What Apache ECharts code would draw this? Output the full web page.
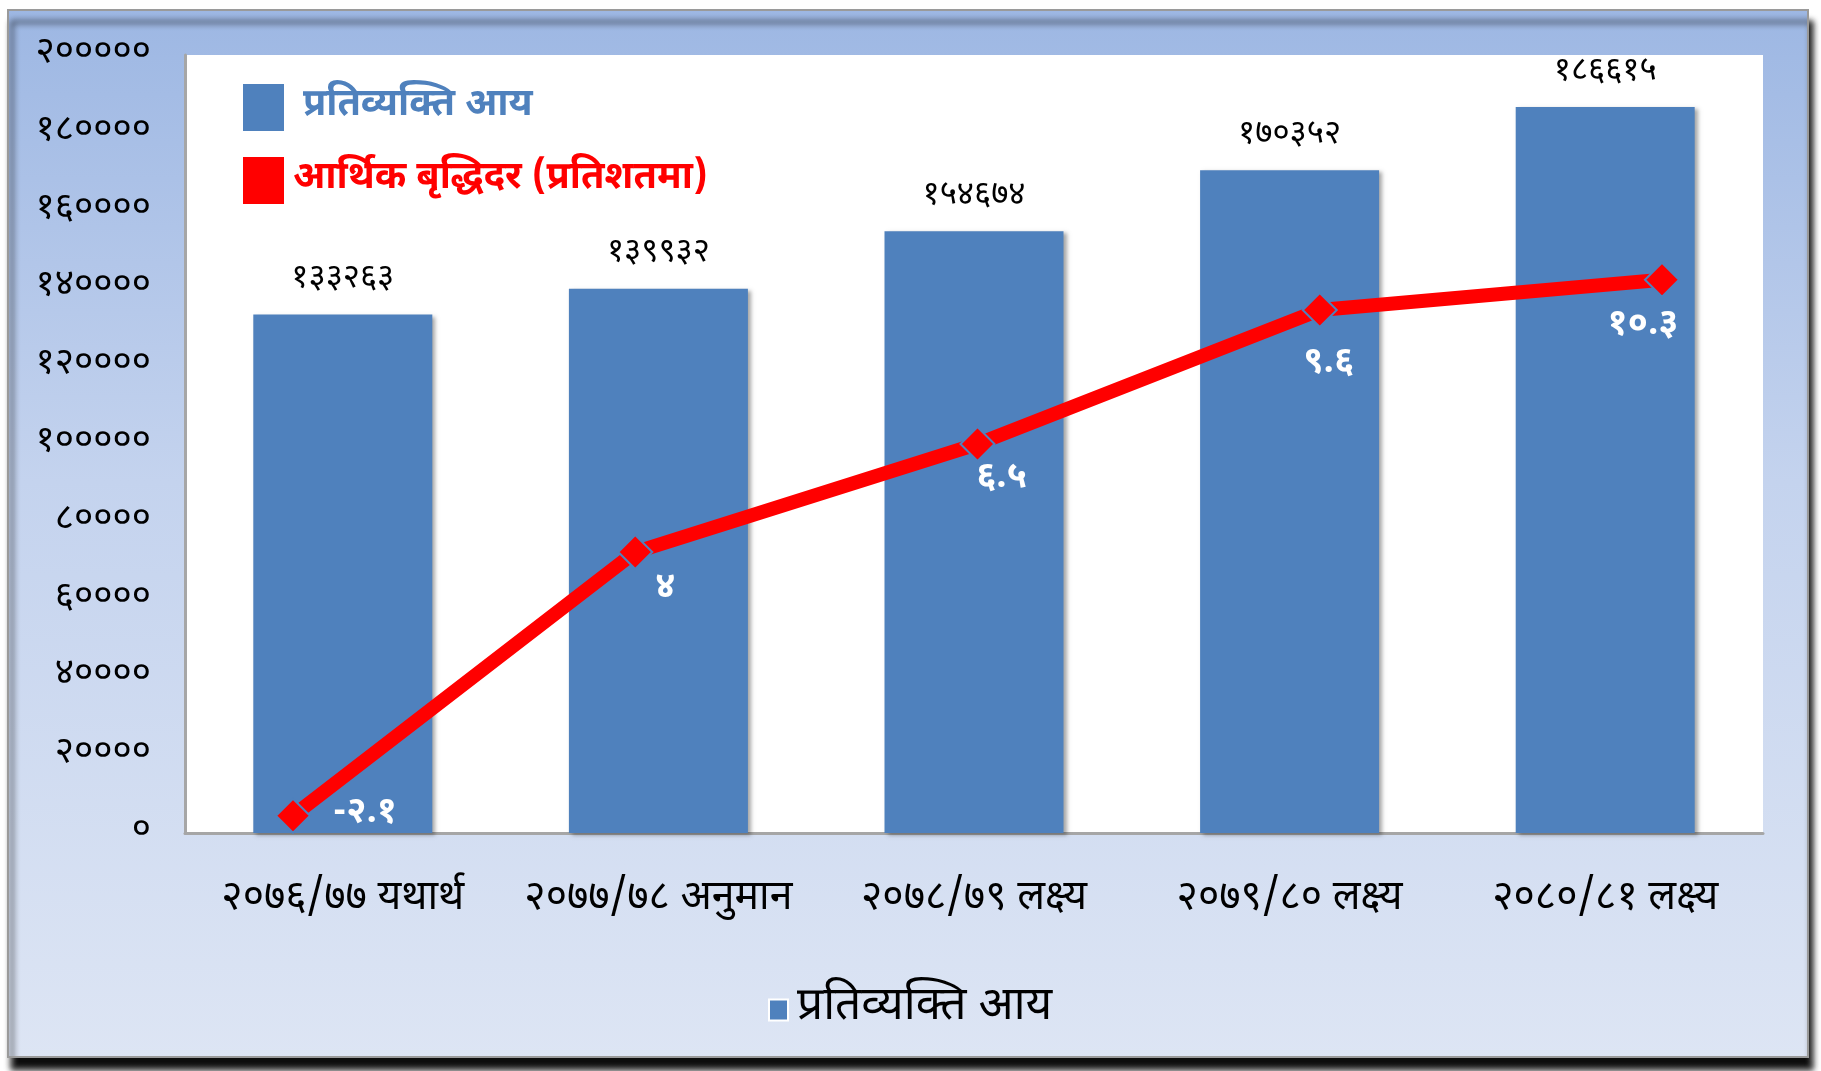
<!DOCTYPE html>
<html>
<head>
<meta charset="utf-8">
<script src="https://cdn.jsdelivr.net/npm/echarts@6/dist/echarts.min.js"></script>
<style>
html,body{margin:0;padding:0;background:#fff;}
#chart{width:1821px;height:1071px;}
</style>
</head>
<body>
<div id="chart"></div>
<script>
const categories = ['२०७६/७७ यथार्थ', '२०७७/७८ अनुमान', '२०७८/७९ लक्ष्य', '२०७९/८० लक्ष्य', '२०८०/८१ लक्ष्य'];
const perCapitaIncome = [133263, 139932, 154674, 170352, 186615];
const growthRate = [-2.1, 4, 6.5, 9.6, 10.3];
const yTickLabels = ['०', '२००००', '४००००', '६००००', '८००००', '१०००००', '१२००००', '१४००००', '१६००००', '१८००००', '२०००००'];
const barName = 'प्रतिव्यक्ति आय';
const lineName = 'आर्थिक बृद्धिदर (प्रतिशतमा)';

const growthLabelOffsets = [[72, 0], [30, 38], [24, 36], [9, 55], [-19, 48]];

const DEV = '०१२३४५६७८९';
function toDev(s){ return String(s).replace(/[0-9]/g, d => DEV[+d]); }
const FONT = "'Noto Sans Devanagari','Lohit Devanagari','Mangal','FreeSans','Noto Sans',sans-serif";

const chart = echarts.init(document.getElementById('chart'), null, {renderer:'canvas'});
chart.setOption({
  animation:false,
  backgroundColor:'#ffffff',
  textStyle:{fontFamily:FONT},
  graphic:[
    {type:'rect', z:-10, silent:true,
     shape:{x:8, y:10, width:1800, height:1047},
     style:{
       fill:new echarts.graphic.LinearGradient(0,0,0,1,[
         {offset:0,color:'#9db7e3'},{offset:0.45,color:'#c4d3ee'},{offset:1,color:'#dde5f4'}]),
       stroke:'#9a9a9a', lineWidth:2,
       shadowColor:'rgba(0,0,0,0.95)', shadowBlur:6, shadowOffsetX:4, shadowOffsetY:12
     }}
  ],
  legend:[
    {orient:'vertical', left:238, top:79, itemWidth:41, itemHeight:47, itemGap:26,
     icon:'rect', selectedMode:false,
     itemStyle:{borderWidth:0},
     data:[
       {name:barName, itemStyle:{borderWidth:0}, textStyle:{color:'#4f81bd', fontSize:38, fontWeight:'bold', padding:[0,0,0,14], fontFamily:FONT}},
       {name:lineName, itemStyle:{borderWidth:0, color:'#ff0000'}, textStyle:{color:'#ff0000', fontSize:38, fontWeight:'bold', padding:[0,0,0,4], fontFamily:FONT}}
     ]},
    {orient:'horizontal', left:763, top:982, itemWidth:19, itemHeight:21, icon:'rect', selectedMode:false,
     itemStyle:{borderColor:'#fff', borderWidth:2},
     data:[{name:barName}],
     textStyle:{color:'#000', fontSize:46, fontFamily:FONT, padding:[0,0,0,4]}}
  ],
  grid:[
    {left:185, right:58, top:55, bottom:238, show:true, backgroundColor:'#ffffff', borderWidth:0},
    {left:293, right:159, top:55, bottom:238, show:false}
  ],
  xAxis:[
    {type:'category', gridIndex:0, data:categories,
     axisLine:{show:true, lineStyle:{color:'#a6a6a6', width:3}},
     axisTick:{show:false},
     axisLabel:{color:'#000', fontSize:41, margin:48, interval:0, fontFamily:FONT}},
    {type:'category', gridIndex:1, data:categories, boundaryGap:false, show:false}
  ],
  yAxis:[
    {type:'value', gridIndex:0, min:0, max:200000, interval:20000,
     axisLine:{show:true, lineStyle:{color:'#a6a6a6', width:3}},
     axisTick:{show:false}, splitLine:{show:false},
     axisLabel:{color:'#000', fontSize:37, margin:34, fontFamily:FONT,
       formatter:(v)=>yTickLabels[Math.round(v/20000)]}},
    {type:'value', gridIndex:1, min:-2.5, max:15.5, show:false, splitLine:{show:false}}
  ],
  series:[
    {name:barName, type:'bar', xAxisIndex:0, yAxisIndex:0, data:perCapitaIncome, barWidth:179,
     itemStyle:{color:'#4f81bd', shadowColor:'rgba(0,0,0,0.35)', shadowBlur:4, shadowOffsetX:3, shadowOffsetY:2},
     label:{show:true, position:'top', distance:17, color:'#000', fontSize:33, fontFamily:FONT,
       formatter:(p)=>toDev(p.value)}},
    {name:lineName, type:'line', xAxisIndex:1, yAxisIndex:1, z:5,
     data:growthRate.map((v,i)=>({value:v, label:{offset:growthLabelOffsets[i]}})),
     lineStyle:{color:'#ff0000', width:14},
     itemStyle:{color:'#ff0000', borderColor:'#4f81bd', borderWidth:2},
     symbol:'diamond', symbolSize:34,
     label:{show:true, position:'inside', color:'#fff', fontSize:36, fontWeight:'bold', fontFamily:FONT,
       formatter:(p)=>toDev(p.value)}}
  ]
});
</script>
</body>
</html>
